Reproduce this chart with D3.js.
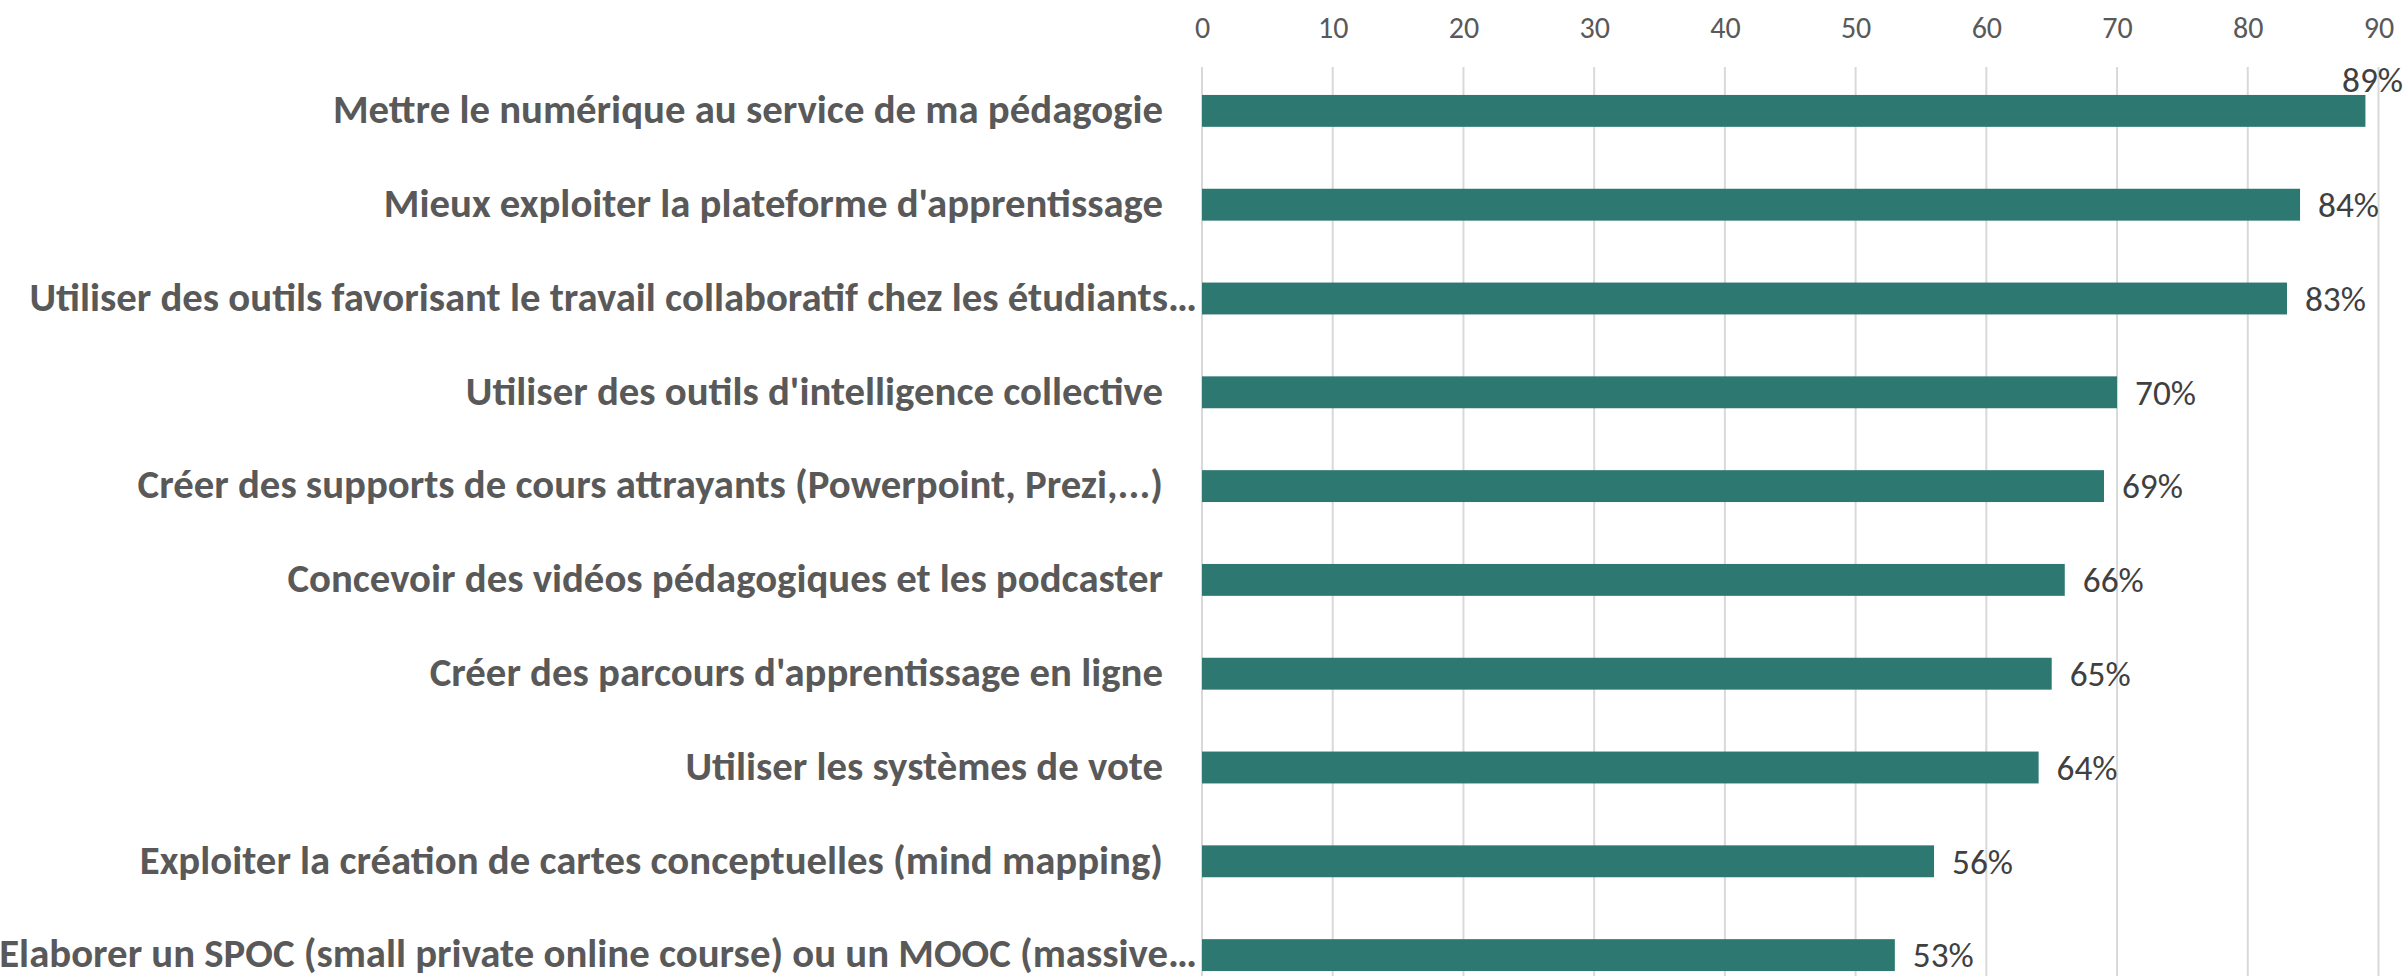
<!DOCTYPE html>
<html lang="fr">
<head>
    <meta charset="UTF-8">
    <title>Besoins de formation au numérique</title>
    <style>
        body { margin: 0; overflow: hidden; background: #fff; }
        #chart { width: 2407px; height: 976px; display: block; }
        .cat { font-family: Carlito, Lato, "Liberation Sans Narrow", sans-serif; font-weight: 700; fill: #595959; }
        .val { font-family: Carlito, Lato, "Liberation Sans Narrow", sans-serif; font-weight: 400; fill: #404040; }
        .tick text { font-family: Carlito, Lato, "Liberation Sans Narrow", sans-serif; fill: #595959; }
    </style>
</head>
<body>
    <svg id="chart"></svg>
    <script src="https://d3js.org/d3.v7.min.js"></script>
    <script>
        // Data (percent of respondents)
        const categories = [
            "Mettre le numérique au service de ma pédagogie",
            "Mieux exploiter la plateforme d'apprentissage",
            "Utiliser des outils favorisant le travail collaboratif chez les étudiants…",
            "Utiliser des outils d'intelligence collective",
            "Créer des supports de cours attrayants (Powerpoint, Prezi,...)",
            "Concevoir des vidéos pédagogiques et les podcaster",
            "Créer des parcours d'apprentissage en ligne",
            "Utiliser les systèmes de vote",
            "Exploiter la création de cartes conceptuelles (mind mapping)",
            "Elaborer un SPOC (small private online course) ou un MOOC (massive…"
        ];
        const values = [89, 84, 83, 70, 69, 66, 65, 64, 56, 53];
        const tickValues = [0, 10, 20, 30, 40, 50, 60, 70, 80, 90];

        const width = 2407, height = 976;
        const svg = d3.select("#chart").attr("width", width).attr("height", height);

        const x = d3.scaleLinear().domain([0, 90]).range([1202, 2378.5]);
        const y = d3.scaleBand().domain(categories).range([64, 1002])
            .paddingInner(0.66).paddingOuter(0.33);

        // gridlines
        svg.append("g").selectAll("line")
            .data(tickValues)
            .enter().append("line")
            .attr("x1", d => x(d)).attr("x2", d => x(d))
            .attr("y1", 67).attr("y2", height)
            .attr("stroke", "#d9d9d9")
            .attr("stroke-width", 2);

        // top axis labels
        const axis = svg.append("g")
            .attr("transform", "translate(0,38)")
            .call(d3.axisTop(x).tickValues(tickValues).tickSize(0).tickPadding(0));
        axis.select(".domain").remove();
        axis.selectAll(".tick text").attr("font-size", 30).attr("dy", "0");

        // bars
        svg.append("g").selectAll("rect")
            .data(values)
            .enter().append("rect")
            .attr("x", x(0))
            .attr("y", (d, i) => y(categories[i]))
            .attr("width", d => x(d) - x(0))
            .attr("height", y.bandwidth())
            .attr("fill", "#2e7872");

        // category labels, sized so the widths come near the reference
        const probe = svg.append("text").attr("class", "cat").attr("font-size", 100);
        const w0 = probe.text(categories[0]).node().getComputedTextLength();
        const w2 = probe.text(categories[2]).node().getComputedTextLength();
        probe.remove();
        const catSize = 100 * (811 / w0 + 1195 / w2) / 2;

        svg.append("g").selectAll("text")
            .data(categories)
            .enter().append("text")
            .attr("class", "cat")
            .attr("font-size", catSize)
            .attr("text-anchor", "end")
            .attr("x", d => d.endsWith("…") ? 1197 : 1163)
            .attr("y", d => y(d) + y.bandwidth() / 2)
            .attr("dy", "0.3em")
            .text(d => d);

        // value labels
        const vprobe = svg.append("text").attr("class", "val").attr("font-size", 100).text("53%");
        const valSize = 100 * 61 / vprobe.node().getComputedTextLength();
        vprobe.remove();

        const vals = svg.append("g").selectAll("text")
            .data(values)
            .enter().append("text")
            .attr("class", "val")
            .attr("font-size", valSize)
            .text(d => d + "%");

        vals.each(function (d, i) {
            const t = d3.select(this);
            const w = this.getComputedTextLength();
            const top = y(categories[i]);
            if (x(d) + 18 + w > width - 4) {
                // not enough room: put the label above the bar end
                t.attr("text-anchor", "end").attr("x", width - 4).attr("y", top - 3);
            } else {
                t.attr("x", x(d) + 18).attr("y", top + y.bandwidth() / 2).attr("dy", "0.35em");
            }
        });
    </script>
</body>
</html>
